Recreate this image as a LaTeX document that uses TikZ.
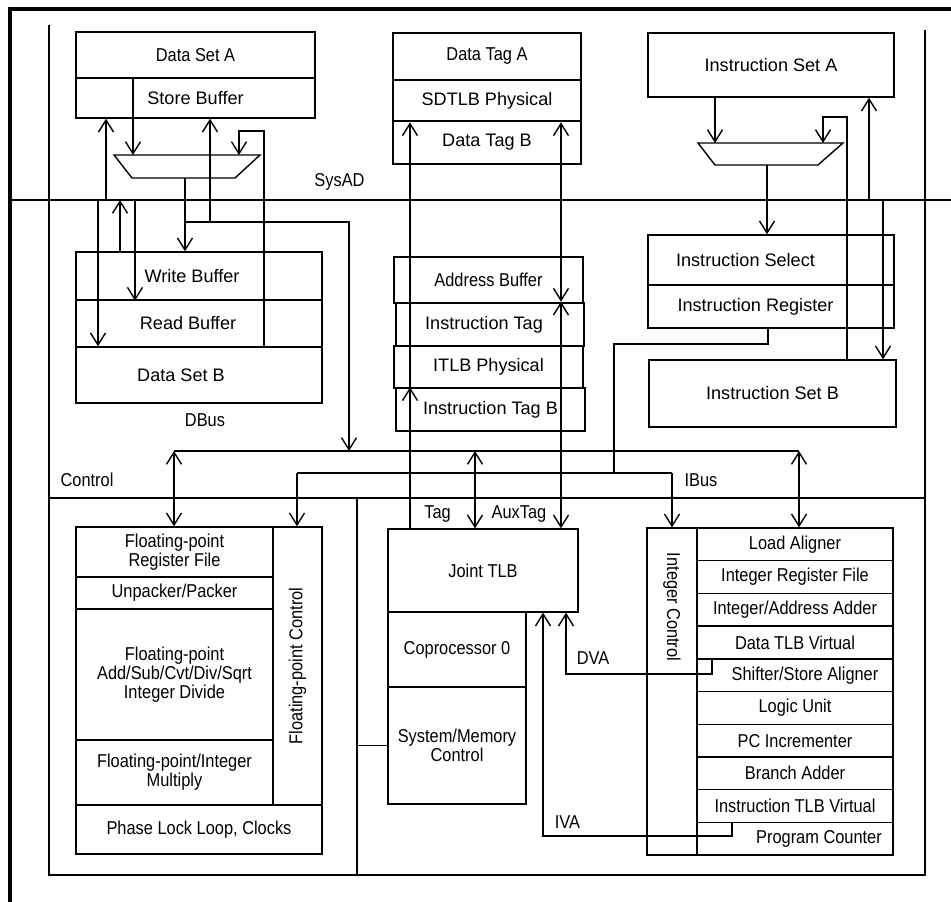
\documentclass[tikz,border=0pt]{standalone}
\usepackage{fontspec}
\setmainfont{Liberation Sans}
\newfontfamily\narrowfont[FakeStretch=0.88]{Liberation Sans}
\usetikzlibrary{arrows.meta}

\begin{document}
\begin{tikzpicture}[x=0.02cm,y=-0.02cm,line width=0.8pt]
\tikzstyle{box}=[draw,inner sep=0pt,font=\fontsize{10.3}{11}\selectfont]
\tikzstyle{nbox}=[draw,inner sep=0pt,align=center,font=\narrowfont\fontsize{10.6}{9.8}\selectfont]
\tikzstyle{lbl}=[inner sep=0pt,font=\narrowfont\fontsize{10.6}{11}\selectfont]
\tikzstyle{arr}=[-{Straight Barb[length=2.4mm,width=3mm]}]
\tikzstyle{darr}=[{Straight Barb[length=2.4mm,width=3mm]}-{Straight Barb[length=2.4mm,width=3mm]}]
\tikzset{sz/.style 2 args={minimum width=#1*0.02cm,minimum height=#2*0.02cm}}
\useasboundingbox (0,0) rectangle (951,902);

\node[nbox,sz={239}{46}] (dsa) at (195.5,55) {Data Set A};
\node[box,sz={239}{40}] (stb) at (195.5,98) {Store Buffer};
\node[box,sz={246}{48}] (wrb) at (199,276) {Write Buffer\hspace*{0.28cm}};
\node[box,sz={246}{47}] (rdb) at (199,323.5) {Read Buffer\hspace*{0.44cm}};
\node[box,sz={246}{56}] (dsb) at (199,375) {Data Set B\hspace*{0.72cm}};

\node[nbox,sz={188}{47}] (dta) at (487,56.5) {Data Tag A};
\node[box,sz={188}{41},line width=1.5pt] (sdt) at (487,100.5) {SDTLB Physical};
\node[box,sz={188}{43}] (dtb) at (487,142.5) {Data Tag B};
\node[nbox,sz={189}{46}] (adb) at (488.5,280) {Address Buffer};
\node[box,sz={188}{43},line width=1.5pt] (itg) at (490,324.5) {Instruction Tag\hspace*{0.24cm}};
\node[box,sz={189}{42}] (itp) at (488.5,367) {ITLB Physical};
\node[box,sz={189}{43}] (itb) at (490.5,409.5) {Instruction Tag B};

\node[box,sz={246}{64}] (isa) at (771,65) {Instruction Set A};
\node[box,sz={246}{50}] (isl) at (771,260) {Instruction Select\hspace*{1.02cm}};
\node[box,sz={246}{43}] (irg) at (771,306.5) {Instruction Register\hspace*{0.62cm}};
\node[box,sz={247}{67}] (isb) at (772.5,393.5) {Instruction Set B};

\node[nbox,sz={197}{50}] (fpr) at (174.5,552) {Floating-point\\Register File};
\node[nbox,sz={197}{32}] (upk) at (174.5,593) {Unpacker/Packer};
\node[nbox,sz={197}{131}] (fpa) at (174.5,674.5) {Floating-point\\Add/Sub/Cvt/Div/Sqrt\\Integer Divide};
\node[nbox,sz={197}{65}] (fpm) at (174.5,772.5) {Floating-point/Integer\\Multiply};
\node[nbox,sz={246}{49}] (pll) at (199,829.5) {Phase Lock Loop, Clocks};
\node[nbox,rotate=90,sz={278}{49}] (fpc) at (297.5,666) {Floating-point Control};

\node[nbox,sz={190}{83}] (jtlb) at (483,570.5) {Joint TLB};
\node[nbox,sz={138}{75}] (cp0) at (457,649.5) {Coprocessor 0};
\node[nbox,sz={138}{117}] (smc) at (457,745.5) {System/Memory\\Control};

\node[nbox,rotate=-90,sz={327}{50}] (ictl) at (672,691.5) {Integer Control\hspace*{3.38cm}};
\node[nbox,sz={196}{32.7}] (lal) at (795,544.4) {Load Aligner};
\node[nbox,sz={196}{32.7}] (irf) at (795,577.1) {Integer Register File};
\node[nbox,sz={196}{32.7}] (iaa) at (795,609.8) {Integer/Address Adder};
\node[nbox,sz={196}{32.7}] (dtv) at (795,642.5) {Data TLB Virtual};
\node[nbox,sz={196}{32.7}] (ssa) at (795,675.2) {\hspace*{0.4cm}Shifter/Store Aligner};
\node[nbox,sz={196}{32.7}] (lgu) at (795,707.9) {Logic Unit};
\node[nbox,sz={196}{32.7}] (pci) at (795,740.6) {PC Incrementer};
\node[nbox,sz={196}{32.7}] (bra) at (795,773.3) {Branch Adder};
\node[nbox,sz={196}{32.7}] (itv) at (795,806) {Instruction TLB Virtual};
\node[nbox,sz={196}{32.7}] (pcn) at (795,838.7) {\hspace*{0.96cm}Program Counter};

\node[lbl] (lsys) at (339.5,182) {SysAD};
\node[lbl] (ldbus) at (205,420) {DBus};
\node[lbl] (lctl) at (87,480) {Control};
\node[lbl] (libus) at (701,480) {IBus};
\node[lbl] (ltag) at (437.5,514) {Tag};
\node[lbl] (laux) at (519,514) {AuxTag};
\node[lbl] (ldva) at (593,658.5) {DVA};
\node[lbl] (liva) at (567.5,822.5) {IVA};

\coordinate (muxd) at (187,166.5);
\coordinate (muxdT) at (187,155);
\coordinate (muxdB) at (187,178);
\coordinate (muxi) at (770.5,154);
\coordinate (muxiT) at (770.5,143);
\coordinate (muxiB) at (770.5,165);
\draw (muxd) ++(-73,-11.5) -- ++(146,0) -- ++(-25,23) -- ++(-103,0) -- cycle;
\draw (muxi) ++(-72.5,-11) -- ++(145,0) -- ++(-25,22) -- ++(-103,0) -- cycle;

\coordinate (otl) at (10,9);
\coordinate (obl) at (10,902);
\coordinate (otr) at (951,9);
\coordinate (frTL) at (49,25);
\coordinate (frBL) at (49,875);
\coordinate (frBR) at (925,875);
\coordinate (frTR) at (925,30);
\coordinate (sysW) at (10,200);
\coordinate (sysE) at (951,200);
\coordinate (sepW) at (49,498);
\coordinate (sepE) at (925,498);
\coordinate (vsep) at (357,498);
\coordinate (vsepB) at (357,875);
\coordinate (dbusW) at (174,451);
\coordinate (dbusE) at (799,451);
\coordinate (ctlW) at (297,473);
\coordinate (ctlE) at (672,473);
\coordinate (ctlM) at (614,344);
\coordinate (irx) at (768,0);
\coordinate (dsaout) at (133,0);
\coordinate (sbin1) at (106,0);
\coordinate (sbin2) at (210,0);
\coordinate (dsbfb) at (264,0);
\coordinate (dfbk) at (239,131);
\coordinate (dmuxo) at (185,0);
\coordinate (dbtap) at (349,222);
\coordinate (d2b) at (98,0);
\coordinate (d2r) at (135,0);
\coordinate (w2s) at (120,0);
\coordinate (tagx) at (410,0);
\coordinate (auxx) at (561,0);
\coordinate (jtx) at (475,0);
\coordinate (isaout) at (715,0);
\coordinate (ifbk) at (823,117);
\coordinate (isbfb) at (847,0);
\coordinate (isain) at (869,0);
\coordinate (imuxo) at (767,0);
\coordinate (isbin) at (883,0);
\coordinate (dvax) at (712,0);
\coordinate (dvac) at (566,674);
\coordinate (ivax) at (732,0);
\coordinate (ivac) at (543,836);

\draw[line width=1.8pt] (obl) -- (otl) -- (otr);
\draw (frTL) -- (frBL) -- (frBR) -- (frTR);
\draw (sysW) -- (sysE);
\draw (sepW) -- (sepE);
\draw (vsep) -- (vsepB);
\draw (smc.west -| vsep) -- (smc.west);
\draw (dbusW) -- (dbusE);
\draw (ctlW) -- (ctlE);

\draw[arr] (stb.north -| dsaout) -- (muxdT -| dsaout);
\draw[arr] (sysW -| sbin1) -- (stb.south -| sbin1);
\draw[arr] (dbtap -| sbin2) -- (stb.south -| sbin2);
\draw[arr] (dsb.north -| dsbfb) -- (dsbfb |- dfbk) -- (dfbk) -- (muxdT -| dfbk);
\draw[arr] (muxdB -| dmuxo) -- (wrb.north -| dmuxo);
\draw[arr] (dmuxo |- dbtap) -- (dbtap) -- (dbusW -| dbtap);
\draw[arr] (sysW -| d2b) -- (dsb.north -| d2b);
\draw[arr] (sysW -| d2r) -- (wrb.south -| d2r);
\draw[arr] (wrb.north -| w2s) -- (sysW -| w2s);

\draw[arr] (jtlb.north -| tagx) -- (itb.north -| tagx);
\draw[arr] (itb.north -| tagx) -- (sdt.south -| tagx);
\draw[darr] (sdt.south -| auxx) -- (itg.north -| auxx);
\draw[darr] (itg.north -| auxx) -- (jtlb.north -| auxx);
\draw[darr] (dbusW -| jtx) -- (jtlb.north -| jtx);
\draw[darr] (dbusW) -- (fpr.north -| dbusW);
\draw[darr] (dbusE) -- (lal.north -| dbusE);

\draw (irg.south -| irx) |- (ctlM) -- (ctlM |- ctlE);
\draw[arr] (ctlW) -- (fpr.north -| ctlW);
\draw[arr] (ctlE) -- (lal.north -| ctlE);

\draw[arr] (isa.south -| isaout) -- (muxiT -| isaout);
\draw[arr] (isb.north -| isbfb) -- (isbfb |- ifbk) -- (ifbk) -- (muxiT -| ifbk);
\draw[arr] (sysE -| isain) -- (isa.south -| isain);
\draw[arr] (muxiB -| imuxo) -- (isl.north -| imuxo);
\draw[arr] (sysE -| isbin) -- (isb.north -| isbin);

\draw[arr] (dtv.south -| dvax) |- (dvac) -- (jtlb.south -| dvac);
\draw[arr] (itv.south -| ivax) |- (ivac) -- (jtlb.south -| ivac);
\end{tikzpicture}
\end{document}
